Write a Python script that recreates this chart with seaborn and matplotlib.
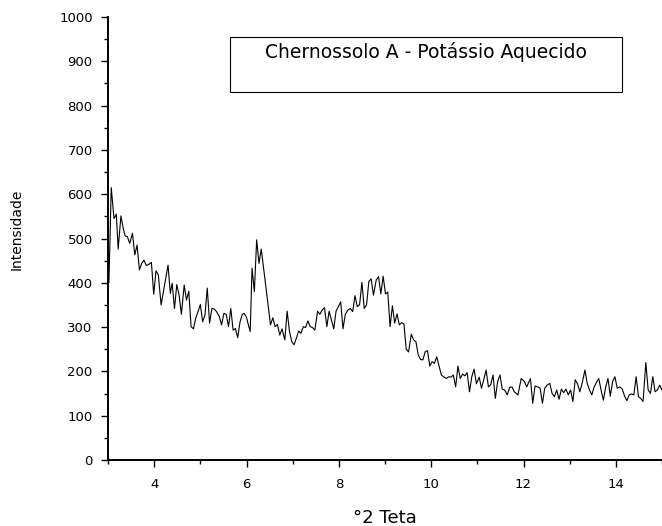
import numpy as np
import pandas as pd
import matplotlib
matplotlib.use("Agg")
import matplotlib.pyplot as plt
from matplotlib.patches import Rectangle
from matplotlib.ticker import MultipleLocator
import seaborn as sns

two_theta = [
    3.02, 3.07, 3.13, 3.18, 3.22, 3.28, 3.33, 3.37, 3.42, 3.47, 3.53, 3.58, 3.63, 3.68,
    3.73, 3.78, 3.83, 3.89, 3.94, 3.99, 4.04, 4.09, 4.15, 4.20, 4.25, 4.30, 4.35, 4.39,
    4.44, 4.49, 4.54, 4.59, 4.65, 4.70, 4.75, 4.80, 4.85, 4.90, 4.95, 5.00, 5.05, 5.10,
    5.15, 5.20, 5.25, 5.30, 5.35, 5.41, 5.46, 5.51, 5.56, 5.61, 5.66, 5.71, 5.76, 5.81,
    5.86, 5.91, 5.95, 6.00, 6.04, 6.08, 6.12, 6.17, 6.22, 6.27, 6.32, 6.37, 6.42, 6.47,
    6.52, 6.57, 6.62, 6.67, 6.72, 6.77, 6.83, 6.88, 6.93, 6.98, 7.03, 7.08, 7.13, 7.18,
    7.23, 7.28, 7.33, 7.38, 7.43, 7.48, 7.54, 7.59, 7.64, 7.69, 7.74, 7.79, 7.84, 7.89,
    7.94, 7.99, 8.04, 8.09, 8.14, 8.20, 8.25, 8.30, 8.35, 8.40, 8.45, 8.50, 8.55, 8.60,
    8.65, 8.70, 8.75, 8.81, 8.86, 8.91, 8.96, 9.01, 9.06, 9.11, 9.16, 9.21, 9.26, 9.31,
    9.36, 9.41, 9.46, 9.51, 9.57, 9.62, 9.67, 9.72, 9.77, 9.82, 9.87, 9.92, 9.97, 10.02,
    10.07, 10.12, 10.17, 10.22, 10.28, 10.33, 10.38, 10.43, 10.48, 10.53, 10.58, 10.63,
    10.68, 10.73, 10.78, 10.83, 10.88, 10.93, 10.98, 11.04, 11.09, 11.14, 11.19, 11.24,
    11.29, 11.34, 11.39, 11.44, 11.49, 11.54, 11.59, 11.65, 11.70, 11.75, 11.80, 11.88,
    11.95, 12.02, 12.07, 12.15, 12.20, 12.25, 12.31, 12.36, 12.41, 12.46, 12.51, 12.57,
    12.62, 12.67, 12.72, 12.77, 12.82, 12.87, 12.92, 12.97, 13.02, 13.07, 13.12, 13.17,
    13.22, 13.27, 13.33, 13.38, 13.43, 13.48, 13.53, 13.58, 13.63, 13.68, 13.73, 13.78,
    13.83, 13.88, 13.93, 13.98, 14.03, 14.09, 14.14, 14.19, 14.24, 14.29, 14.34, 14.39,
    14.44, 14.49, 14.54, 14.59, 14.65, 14.70, 14.75, 14.80, 14.85, 14.90, 14.95, 15.00,
]

intensity = [
    400, 615, 545, 555, 476, 551, 523, 506, 504, 489, 512, 463, 485, 429,
    444, 451, 439, 442, 446, 374, 427, 418, 350, 380, 410, 440, 376, 399,
    342, 396, 372, 329, 395, 361, 381, 301, 296, 320, 335, 351, 312, 327,
    388, 309, 342, 341, 335, 324, 305, 331, 329, 301, 342, 293, 297, 276,
    312, 329, 331, 322, 305, 290, 433, 380, 497, 444, 476, 433, 391, 346,
    305, 321, 301, 306, 282, 296, 271, 336, 291, 267, 260, 275, 291, 286,
    301, 299, 314, 301, 299, 293, 336, 329, 339, 344, 301, 336, 316, 296,
    336, 346, 357, 296, 329, 339, 342, 335, 371, 346, 351, 401, 342, 350,
    403, 409, 372, 406, 414, 375, 415, 375, 379, 301, 348, 309, 330, 305,
    310, 307, 250, 244, 284, 271, 267, 237, 227, 226, 244, 247, 212, 222,
    218, 233, 212, 192, 187, 184, 188, 187, 192, 165, 212, 184,
    194, 190, 197, 154, 188, 205, 172, 187, 162, 182, 203, 165,
    170, 192, 139, 177, 192, 160, 158, 147, 164, 165, 154, 147,
    184, 177, 165, 184, 128, 167, 165, 162, 128, 162, 169, 173,
    150, 143, 158, 137, 160, 152, 160, 147, 158, 132, 181, 172,
    154, 173, 203, 173, 158, 147, 165, 175, 184, 158, 135, 165,
    184, 144, 177, 188, 162, 165, 160, 144, 134, 147, 149, 147,
    188, 143, 139, 132, 220, 158, 150, 188, 154, 158, 169, 158,
]

title_text = "Chernossolo A - Potássio Aquecido"
x_label = "°2 Teta"
y_label = "Intensidade"

df = pd.DataFrame({"x": two_theta, "y": intensity})

sns.set_style("ticks")
plt.rcParams["font.family"] = ["DejaVu Sans"]
plt.rcParams["text.color"] = "black"
plt.rcParams["axes.labelcolor"] = "black"
plt.rcParams["xtick.color"] = "black"
plt.rcParams["ytick.color"] = "black"

fig = plt.figure(figsize=(6.62, 5.26), dpi=100)
ax = fig.add_axes([108 / 662, 1 - 460 / 526, 1 - 108 / 662, (460 - 17) / 526])

sns.lineplot(data=df, x="x", y="y", ax=ax, color="black", linewidth=0.8,
             estimator=None, sort=False)

ax.set_xlim(3, 15)
ax.set_ylim(0, 1000)
ax.xaxis.set_major_locator(MultipleLocator(2))
ax.xaxis.set_minor_locator(MultipleLocator(1))
ax.yaxis.set_major_locator(MultipleLocator(100))
ax.yaxis.set_minor_locator(MultipleLocator(50))
ax.tick_params(which="major", direction="out", length=5, width=1, labelsize=9.5,
               colors="black")
ax.tick_params(which="minor", direction="out", length=3, width=1)
ax.tick_params(axis="x", which="major", pad=8)
ax.tick_params(axis="y", which="major", pad=6)

for s in ["top", "right"]:
    ax.spines[s].set_visible(False)
for s in ["left", "bottom"]:
    ax.spines[s].set_linewidth(1.4)
    ax.spines[s].set_color("black")

ax.set_xlabel(x_label, fontsize=13, labelpad=13)
ax.set_ylabel(y_label, fontsize=10)
ax.yaxis.set_label_coords(-0.152, 0.52)

box = Rectangle((5.65, 831), 14.13 - 5.65, 955 - 831, fill=False,
                edgecolor="black", linewidth=0.8)
ax.add_patch(box)
ax.text((5.65 + 14.13) / 2, 922, title_text, ha="center", va="center",
        fontsize=13.5)

fig.savefig("out.png", dpi=100)
